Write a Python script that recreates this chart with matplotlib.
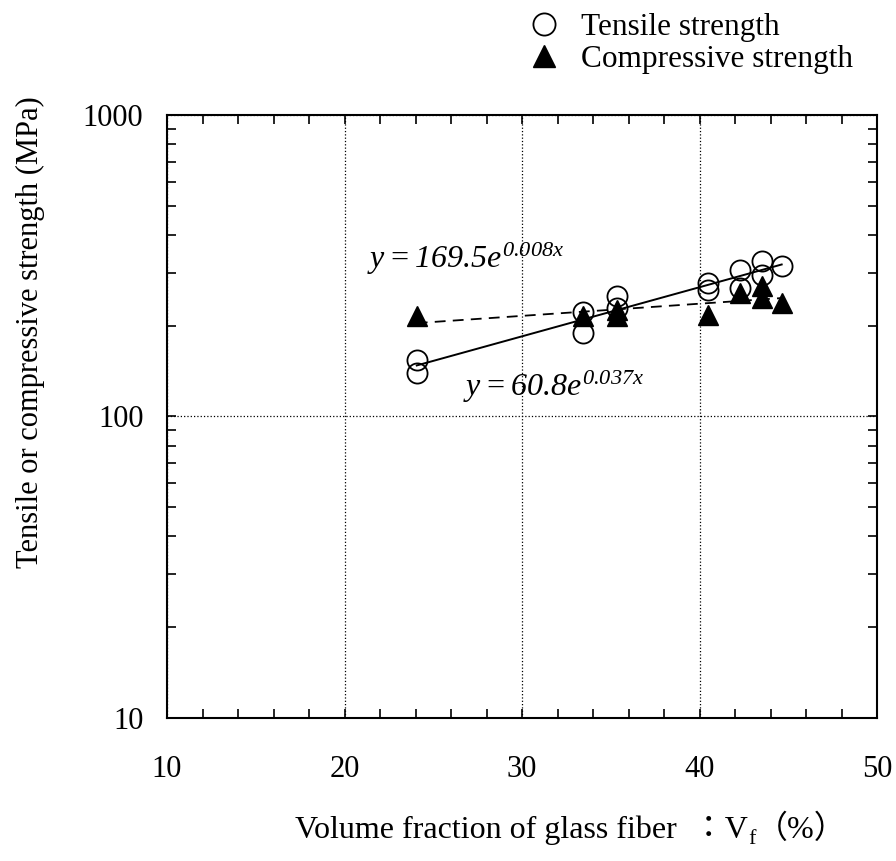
import numpy as np
import matplotlib
matplotlib.use('Agg')
import matplotlib.pyplot as plt
from matplotlib.ticker import MultipleLocator, LogLocator, NullFormatter

plt.rcParams['font.family'] = ['Liberation Serif', 'Noto Sans CJK JP']
plt.rcParams['font.size'] = 22
# the fit equations are fully italic (digits too)
plt.rcParams['mathtext.fontset'] = 'custom'
plt.rcParams['mathtext.rm'] = 'Liberation Serif:italic'
plt.rcParams['mathtext.it'] = 'Liberation Serif:italic'

# tensile strength (MPa) vs glass fiber volume fraction (%)
vf_t = np.array([24.07, 24.07, 33.45, 33.45, 35.33, 35.33, 40.5, 40.5,
                 42.28, 42.28, 43.5, 43.5, 44.63])
tensile = np.array([153.7, 138.8, 222.8, 188.7, 250.0, 228.0, 276.9, 263.0,
                    306.6, 266.5, 327.0, 295.0, 314.8])

# compressive strength (MPa)
vf_c = np.array([24.07, 33.45, 35.33, 35.33, 40.5, 42.28, 43.5, 43.5, 44.63])
compressive = np.array([214.5, 214.7, 225.5, 214.7, 217.1, 256.7, 270.0,
                        247.0, 237.5])

fit_t = np.polyfit(vf_t, np.log(tensile), 1)
fit_c = np.polyfit(vf_c, np.log(compressive), 1)

fig = plt.figure(figsize=(8.96, 8.61), dpi=100)
ax = fig.add_axes([167 / 896, 1 - 717.7 / 861, 710 / 896, (717.7 - 115) / 861])

xs = np.array([vf_t.min(), vf_t.max()])
ax.plot(xs, np.exp(np.polyval(fit_t, xs)), color='black', lw=1.4)
xs = np.array([vf_c.min(), vf_c.max()])
ax.plot(xs, np.exp(np.polyval(fit_c, xs)), color='black', lw=1.3,
        linestyle=(0, (6, 4)))

h1, = ax.plot(vf_t, tensile, 'o', ms=14.5, mfc='none', mec='black', mew=1.3,
              label='Tensile strength')
h2, = ax.plot(vf_c, compressive, '^', ms=14.5, mfc='black', mec='black',
              label='Compressive strength')

ax.set_xlim(10, 50)
ax.set_yscale('log')
ax.set_ylim(10, 1000)
ax.xaxis.set_major_locator(MultipleLocator(10))
ax.xaxis.set_minor_locator(MultipleLocator(2))
ax.yaxis.set_major_locator(LogLocator(base=10, numticks=5))
ax.yaxis.set_minor_locator(LogLocator(base=10, subs=np.arange(2, 10), numticks=10))
ax.yaxis.set_minor_formatter(NullFormatter())
ax.yaxis.set_major_formatter(plt.FuncFormatter(lambda v, p: '%d' % v))

ax.tick_params(which='both', direction='in', top=True, right=True,
               length=6.5, width=1.2, labelsize=22)
ax.tick_params(axis='x', pad=27)
ax.tick_params(axis='y', pad=17)
for s in ax.spines.values():
    s.set_linewidth(1.5)

ax.grid(True, which='major', linestyle=':', color='black', lw=0.9)

ax.text(21.27, 310.7, r'$y=169.5e^{0.008x}$', fontsize=23, va='baseline')
ax.text(26.68, 117.2, r'$y=60.8e^{0.037x}$', fontsize=23, va='baseline')

fig.text(30 / 896, 1 - 332 / 861, 'Tensile or compressive strength (MPa)',
         rotation=90, ha='center', va='center', fontsize=22)

# x label with subscript f, built from pieces
y_lab = 1 - 838 / 861
t1 = fig.text(295 / 896, y_lab, 'Volume fraction of glass fiber  \uff1aV',
              ha='left', va='baseline', fontsize=23)
fig.canvas.draw()
r = fig.canvas.get_renderer()
bb = t1.get_window_extent(r)
t2 = fig.text(bb.x1 / 896, y_lab - 6 / 861, 'f', ha='left', va='baseline',
              fontsize=16)
bb2 = t2.get_window_extent(r)
fig.text(bb2.x1 / 896, y_lab, '\uff08%\uff09', ha='left', va='baseline',
         fontsize=23)

fig.legend(handles=[h1, h2], loc='upper left', bbox_to_anchor=(525 / 896, 1 - 10 / 861),
           frameon=False, handlelength=1.0, handletextpad=0.7,
           labelspacing=0.1, borderpad=0.1, borderaxespad=0, markerscale=1.1,
           fontsize=22.5)

fig.savefig('out.png', dpi=100)
